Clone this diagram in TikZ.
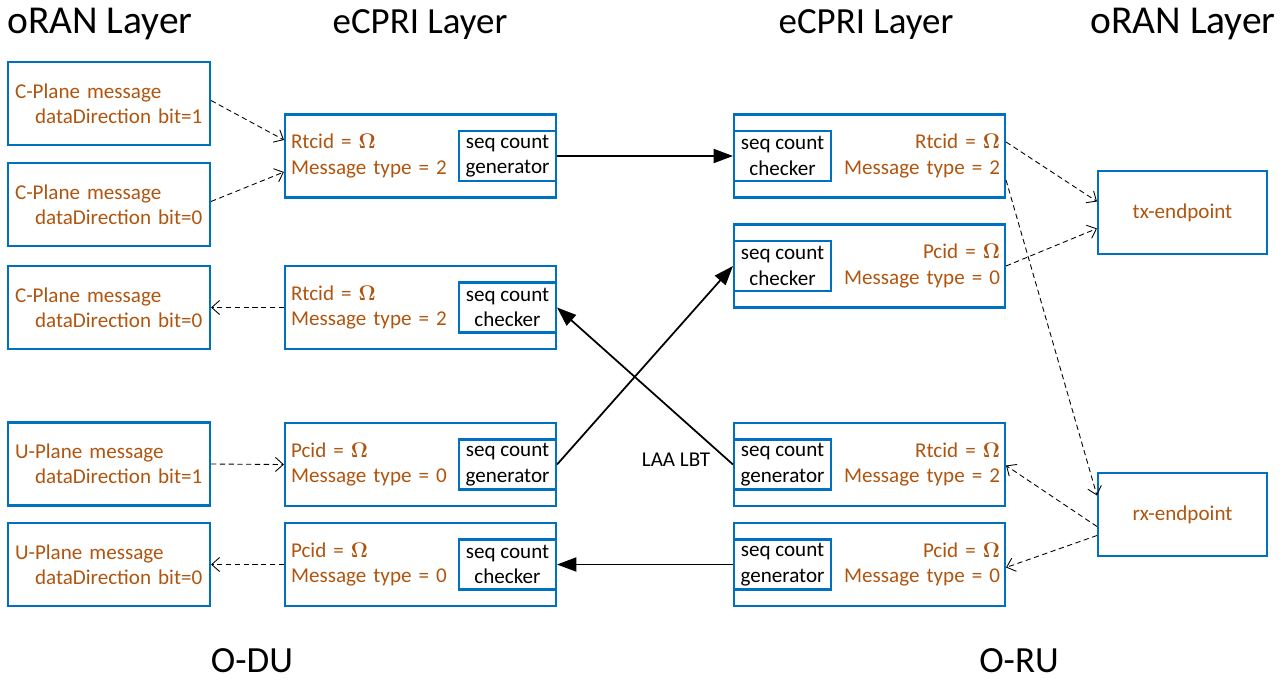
\documentclass[tikz,border=0pt]{standalone}
\usepackage[no-math]{fontspec}
\setmainfont{Carlito}
\usetikzlibrary{arrows.meta,calc,positioning}
\definecolor{boxblue}{RGB}{0,112,192}
\definecolor{txtbrown}{RGB}{175,85,15}

\begin{document}
\begin{tikzpicture}[x=0.02cm, y=-0.02cm,
    every node/.style={font=\fontsize{12}{14.5}\selectfont},
    bx/.style={draw=boxblue, line width=1.2pt, minimum height=1.66cm, text=txtbrown},
    oran/.style={bx, minimum width=4.04cm, text width=3.76cm, inner xsep=0.14cm, align=left},
    ecl/.style={bx, minimum width=5.42cm, text width=5.18cm, inner xsep=0.12cm, align=left},
    ecr/.style={bx, minimum width=5.42cm, text width=5.22cm, inner xsep=0.1cm, align=right},
    seqbox/.style={draw=boxblue, line width=1.2pt, minimum width=1.94cm, minimum height=1cm, inner sep=0pt, align=center},
    endbox/.style={bx, minimum width=3.38cm},
    head/.style={font=\fontsize{21}{25}\selectfont, inner sep=0pt},
    dsh/.style={-{Straight Barb[length=4.5pt,width=8pt]}, dash pattern=on 3pt off 2pt, line width=0.5pt},
    sol/.style={-{Triangle[length=11pt,width=8pt]}, line width=1pt}]
    \useasboundingbox (0,0) rectangle (1285,680);
    % layer titles
    \node[head, font=\fontsize{22.5}{26}\selectfont] (h1) at (100,24) {oRAN Layer};
    \node[head] (h2) at (420,24) {eCPRI Layer};
    \node[head] (h3) at (866,24) {eCPRI Layer};
    \node[head, font=\fontsize{22.5}{26}\selectfont] (h4) at (1183,24) {oRAN Layer};
    \node[head] (du) at (252,661) {O-DU};       \node[head] (ru) at (1019,661) {O-RU};
    % O-DU oRAN layer
    \node[oran] (c1) at (109,103.5) {C-Plane message\\\hspace*{0.95em}dataDirection bit=1};
    \node[oran] (c2) at (109,204.5) {C-Plane message\\\hspace*{0.95em}dataDirection bit=0};
    \node[oran] (c3) at (109,307.5) {C-Plane message\\\hspace*{0.95em}dataDirection bit=0};
    \node[oran] (u1) at (109,464)   {U-Plane message\\\hspace*{0.95em}dataDirection bit=1};
    \node[oran] (u2) at (109,564.5) {U-Plane message\\\hspace*{0.95em}dataDirection bit=0};
    % O-DU eCPRI layer
    \node[ecl] (e1) at (420.5,156)   {Rtcid = $\mathbf{\Omega}$\\Message type = 2};
    \node[ecl] (e2) at (420.5,307.5) {Rtcid = $\mathbf{\Omega}$\\Message type = 2};
    \node[ecl] (e3) at (420.5,464.5) {Pcid = $\mathbf{\Omega}$\\Message type = 0};
    \node[ecl] (e4) at (420.5,564.5) {Pcid = $\mathbf{\Omega}$\\Message type = 0};
    \node[seqbox, anchor=east] (e1seq) at (e1.east) {seq count\\generator};
    \node[seqbox, anchor=east] (e2seq) at (e2.east) {seq count\\checker};
    \node[seqbox, anchor=east] (e3seq) at (e3.east) {seq count\\generator};
    \node[seqbox, anchor=east] (e4seq) at (e4.east) {seq count\\checker};
    % O-RU eCPRI layer
    \node[ecr] (r1) at (869.5,156)   {Rtcid = $\mathbf{\Omega}$\\Message type = 2};
    \node[ecr] (r2) at (869.5,266)   {Pcid = $\mathbf{\Omega}$\\Message type = 0};
    \node[ecr] (r3) at (869.5,464.5) {Rtcid = $\mathbf{\Omega}$\\Message type = 2};
    \node[ecr] (r4) at (869.5,564.5) {Pcid = $\mathbf{\Omega}$\\Message type = 0};
    \node[seqbox, anchor=west] (r1seq) at (r1.west) {seq count\\checker};
    \node[seqbox, anchor=west] (r2seq) at (r2.west) {seq count\\checker};
    \node[seqbox, anchor=west] (r3seq) at (r3.west) {seq count\\generator};
    \node[seqbox, anchor=west] (r4seq) at (r4.west) {seq count\\generator};
    % O-RU oRAN layer
    \node[endbox] (tx) at (1182.5,212.5) {tx-endpoint};
    \node[endbox] (rx) at (1182.5,514.5) {rx-endpoint};
    % O-DU side
    \draw[dsh] ($(c1.east)+(0,-3)$) -- ($(e1.west)+(0,-16)$);
    \draw[dsh] ($(c2.east)+(0,-3)$) -- ($(e1.west)+(0,16)$);
    \draw[dsh] (e2.west) -- (c3.east);
    \draw[dsh] (u1.east) -- (e3.west);
    \draw[dsh] (e4.west) -- (u2.east);
    % fronthaul
    \draw[sol] (e1seq.east) -- (r1seq.west);
    \draw[sol] (e3seq.east) -- (r2seq.west);
    \draw[sol] (r3seq.west) -- (e2seq.east);
    \draw[sol] (r4seq.west) -- (e4seq.east);
    \node[inner sep=0pt] (laa) at (676,460) {LAA LBT};
    % O-RU side
    \draw[dsh] ($(r1.east)+(0,-14)$) -- ($(tx.west)+(0,-11)$);
    \draw[dsh] (r2.east) -- ($(tx.west)+(0,16)$);
    \draw[dsh] ($(r1.east)+(0,24)$) -- ($(rx.west)+(0,-19)$);
    \draw[dsh] ($(rx.west)+(0,12)$) -- ($(r3.east)+(0,1)$);
    \draw[dsh] ($(rx.west)+(0,21)$) -- ($(r4.east)+(0,3)$);
\end{tikzpicture}
\end{document}
